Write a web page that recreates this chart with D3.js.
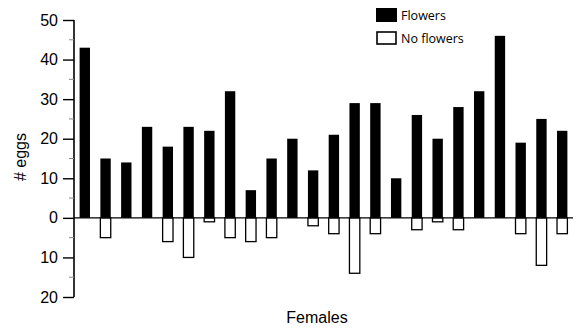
<!DOCTYPE html>
<html>
<head>
<meta charset="utf-8">
<script src="https://cdn.jsdelivr.net/npm/d3@7"></script>
<style>
  body { margin: 0; background: #fff; }
  svg { display: block; }
</style>
</head>
<body>
<svg id="chart" width="580" height="328"></svg>
<script>
// data
const females = d3.range(1, 25);
const flowers = [43, 15, 14, 23, 18, 23, 22, 32, 7, 15, 20, 12, 21, 29, 29, 10, 26, 20, 28, 32, 46, 19, 25, 22];
const noFlowers = [0, 5, 0, 0, 6, 10, 1, 5, 6, 5, 0, 2, 4, 14, 4, 0, 3, 1, 3, 0, 0, 4, 12, 4];
const majorTicks = [-20, -10, 0, 10, 20, 30, 40, 50];
const minorTicks = [-15, -5, 5, 15, 25, 35, 45];
const legendLabels = ["Flowers", "No flowers"];

const svg = d3.select("#chart");
const axisFont = "'Liberation Sans', Arial, Helvetica, sans-serif";

const x = d3.scaleBand()
  .domain(females)
  .range([74, 573])
  .paddingInner(0.5)
  .paddingOuter(0.27);

const y = d3.scaleLinear().domain([-20, 50]).range([297, 20]);

// bars
svg.append("g")
  .selectAll("rect")
  .data(females)
  .join("rect")
  .attr("x", (d) => x(d))
  .attr("width", x.bandwidth())
  .attr("y", (d, i) => y(flowers[i]))
  .attr("height", (d, i) => y(0) - y(flowers[i]))
  .attr("fill", "#000");

svg.append("g")
  .selectAll("rect")
  .data(females.filter((d, i) => noFlowers[i] > 0))
  .join("rect")
  .attr("x", (d) => x(d))
  .attr("width", x.bandwidth())
  .attr("y", y(0))
  .attr("height", (d) => y(-noFlowers[d - 1]) - y(0))
  .attr("fill", "#fff")
  .attr("stroke", "#000")
  .attr("stroke-width", 1.3);

// zero line
svg.append("line")
  .attr("x1", 74).attr("x2", 573)
  .attr("y1", y(0)).attr("y2", y(0))
  .attr("stroke", "#000")
  .attr("stroke-width", 1.3);

// y axis
const yAxis = svg.append("g").attr("transform", "translate(74,0)");
yAxis.call(
  d3.axisLeft(y)
    .tickValues(majorTicks)
    .tickSize(11)
    .tickPadding(5)
    .tickFormat((d) => Math.abs(d))
);
yAxis.select(".domain").attr("d", `M0,${y(-20)}V${y(50)}`).attr("stroke-width", 1.6);
yAxis.selectAll(".tick line").attr("stroke-width", 1.4);
yAxis.selectAll("text")
  .attr("font-family", axisFont)
  .attr("font-size", 16)
  .attr("fill", "#000");

yAxis.append("g")
  .selectAll("line")
  .data(minorTicks)
  .join("line")
  .attr("x1", -5).attr("x2", 0)
  .attr("y1", (d) => y(d)).attr("y2", (d) => y(d))
  .attr("stroke", "#888")
  .attr("stroke-width", 1);

// axis titles
svg.append("text")
  .attr("x", 317)
  .attr("y", 323)
  .attr("text-anchor", "middle")
  .attr("font-family", axisFont)
  .attr("font-size", 16)
  .text("Females");

svg.append("text")
  .attr("transform", "translate(26,157) rotate(-90)")
  .attr("text-anchor", "middle")
  .attr("font-family", axisFont)
  .attr("font-size", 16)
  .text("# eggs");

// legend
const legend = svg.append("g").attr("transform", "translate(376,8)");
legend.selectAll("rect")
  .data(legendLabels)
  .join("rect")
  .attr("x", (d, i) => (i ? 1 : 0))
  .attr("y", (d, i) => i * 23 + (i ? 1 : 0))
  .attr("width", (d, i) => (i ? 19 : 21))
  .attr("height", (d, i) => (i ? 12 : 14))
  .attr("fill", (d, i) => (i ? "#fff" : "#000"))
  .attr("stroke", (d, i) => (i ? "#000" : "none"))
  .attr("stroke-width", 1.6);
legend.selectAll("text")
  .data(legendLabels)
  .join("text")
  .attr("x", 25)
  .attr("y", (d, i) => i * 23 + 12)
  .attr("font-family", "'Open Sans', sans-serif")
  .attr("font-size", 12.5)
  .text((d) => d);
</script>
</body>
</html>
